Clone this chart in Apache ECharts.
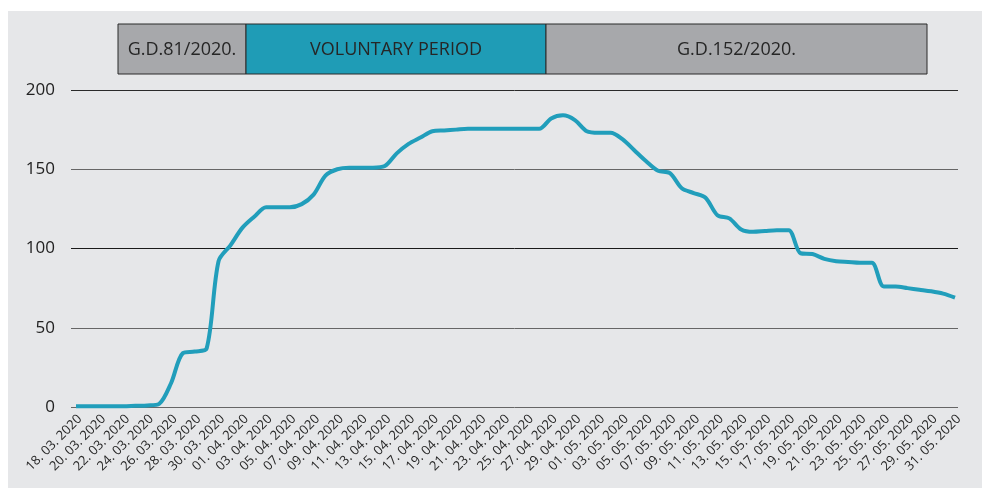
<!DOCTYPE html>
<html>
<head>
<meta charset="utf-8">
<script src="https://cdn.jsdelivr.net/npm/echarts@6/dist/echarts.min.js"></script>
<style>
  html, body { margin: 0; padding: 0; background: #fff; }
  #chart { width: 982px; height: 488px; }
</style>
</head>
<body>
<div id="chart"></div>
<script>
// daily dates 18.03.2020 - 31.05.2020
var dates = [
    '18. 03. 2020','19. 03. 2020','20. 03. 2020','21. 03. 2020','22. 03. 2020','23. 03. 2020','24. 03. 2020',
    '25. 03. 2020','26. 03. 2020','27. 03. 2020','28. 03. 2020','29. 03. 2020','30. 03. 2020','31. 03. 2020',
    '01. 04. 2020','02. 04. 2020','03. 04. 2020','04. 04. 2020','05. 04. 2020','06. 04. 2020','07. 04. 2020',
    '08. 04. 2020','09. 04. 2020','10. 04. 2020','11. 04. 2020','12. 04. 2020','13. 04. 2020','14. 04. 2020',
    '15. 04. 2020','16. 04. 2020','17. 04. 2020','18. 04. 2020','19. 04. 2020','20. 04. 2020','21. 04. 2020',
    '22. 04. 2020','23. 04. 2020','24. 04. 2020','25. 04. 2020','26. 04. 2020','27. 04. 2020','28. 04. 2020',
    '29. 04. 2020','30. 04. 2020','01. 05. 2020','02. 05. 2020','03. 05. 2020','04. 05. 2020','05. 05. 2020',
    '06. 05. 2020','07. 05. 2020','08. 05. 2020','09. 05. 2020','10. 05. 2020','11. 05. 2020','12. 05. 2020',
    '13. 05. 2020','14. 05. 2020','15. 05. 2020','16. 05. 2020','17. 05. 2020','18. 05. 2020','19. 05. 2020',
    '20. 05. 2020','21. 05. 2020','22. 05. 2020','23. 05. 2020','24. 05. 2020','25. 05. 2020','26. 05. 2020',
    '27. 05. 2020','28. 05. 2020','29. 05. 2020','30. 05. 2020','31. 05. 2020'
];

var values = [
    0.5, 0.5, 0.5, 0.5, 0.5, 0.8, 1, 2, 15, 34,
    35, 37, 92, 102, 113, 120, 126, 126, 126, 128,
    134, 146, 150, 151, 151, 151, 152, 160, 166, 170,
    174, 174.5, 175, 175.5, 175.5, 175.5, 175.5, 175.5, 175.5, 175.5,
    182, 184, 181, 174, 173, 173, 169, 162, 155, 149,
    147.5, 138, 135, 132, 121, 119, 112, 110.5, 111, 111.5,
    111.5, 97, 96.5, 93.5, 92, 91.5, 91, 91, 76, 76,
    75, 74, 73, 71.5, 69
];

var periodNames = ['G.D.81/2020.', 'VOLUNTARY PERIOD', 'G.D.152/2020.'];

var yTicks = [0, 50, 100, 150, 200];

var myChart = echarts.init(document.getElementById('chart'));

// period boxes on top
var boxes = [
    {x: 118, w: 128, fill: '#a7a8ab'},
    {x: 246, w: 300, fill: '#1f9cb6'},
    {x: 546, w: 381, fill: '#a7a8ab'}
];
var graphics = [
    {type: 'rect', left: 0, top: 0, z: 100, shape: {width: 982, height: 11}, style: {fill: '#fff'}},
    {type: 'rect', left: 0, top: 0, z: 100, shape: {width: 8, height: 488}, style: {fill: '#fff'}}
];
boxes.forEach(function(b, i){
    graphics.push({
        type: 'rect',
        shape: {x: b.x, y: 24, width: b.w, height: 50},
        style: {fill: b.fill, stroke: '#2b2b2b', lineWidth: 1},
        z: 10
    });
    graphics.push({
        type: 'text',
        x: b.x + b.w / 2,
        y: 50,
        z: 11,
        style: {
            text: periodNames[i],
            fill: '#262626',
            font: '18px "Open Sans"',
            textAlign: 'center',
            textVerticalAlign: 'middle'
        }
    });
});

var option = {
    backgroundColor: '#e6e7e9',
    animation: false,
    graphic: graphics,
    grid: [
        {left: 76, right: 27, top: 90, bottom: 81},   // data
        {left: 71, right: 24, top: 90, bottom: 81},   // grid lines
        {left: 80, right: 23, top: 90, bottom: 81}    // date labels (nudged right)
    ],
    xAxis: [
        {
            type: 'category',
            gridIndex: 0,
            data: dates,
            boundaryGap: false,
            show: false
        },
        {
            type: 'value',
            gridIndex: 1,
            min: 0,
            max: 1,
            show: false
        },
        {
            type: 'category',
            gridIndex: 2,
            data: dates,
            boundaryGap: false,
            axisLine: {show: false},
            axisTick: {show: false},
            axisLabel: {
                interval: 1,
                rotate: 45,
                margin: 10,
                color: '#262626',
                fontSize: 13,
                fontFamily: 'Open Sans'
            },
            splitLine: {show: false}
        }
    ],
    yAxis: [
        {
            type: 'value',
            gridIndex: 0,
            min: 0,
            max: 200,
            show: false
        },
        {
            type: 'value',
            gridIndex: 1,
            min: yTicks[0],
            max: yTicks[yTicks.length - 1],
            interval: 50,
            axisLine: {show: false},
            axisTick: {show: false},
            axisLabel: {
                margin: 16,
                color: '#222',
                fontSize: 17,
                fontFamily: 'Open Sans'
            },
            splitLine: {
                show: true,
                lineStyle: {
                    color: ['#666', '#666', '#1a1a1a', '#666', '#2a2a2a'],
                    width: 1
                }
            }
        },
        {
            type: 'value',
            gridIndex: 2,
            min: 0,
            max: 200,
            show: false
        }
    ],
    series: [
        {
            name: 'values',
            type: 'line',
            xAxisIndex: 0,
            yAxisIndex: 0,
            data: values,
            smooth: 0.3,
            symbol: 'none',
            lineStyle: {
                color: '#219ebb',
                width: 4
            },
            z: 5
        }
    ]
};
myChart.setOption(option);
</script>
</body>
</html>
